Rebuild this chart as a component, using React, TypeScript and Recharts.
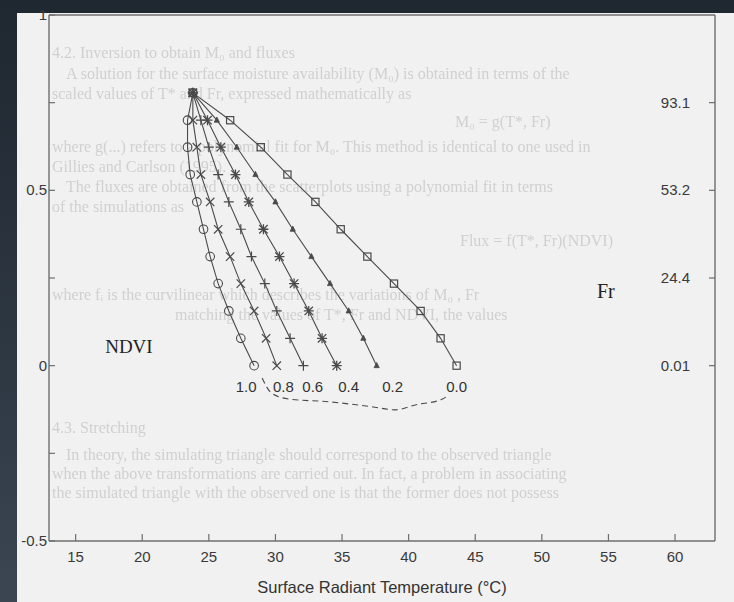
import React from 'react'
import { ComposedChart, Line, XAxis, YAxis, ReferenceDot } from 'recharts'

// NDVI levels of the simulated points (apex first, down to the bare-soil row)
const ndviLevels = [0.778, 0.7, 0.623, 0.545, 0.467, 0.389, 0.311, 0.234, 0.156, 0.078, 0.0]

// surface radiant temperature (°C) of each isoline of Fr, one value per NDVI level
const tFr10 = [23.8, 23.4, 23.4, 23.6, 24.1, 24.6, 25.1, 25.7, 26.5, 27.4, 28.4]
const tFr08 = [23.8, 23.8, 24.1, 24.4, 25.1, 25.7, 26.6, 27.4, 28.4, 29.3, 30.1]
const tFr06 = [23.8, 24.4, 25.0, 25.7, 26.5, 27.4, 28.2, 29.2, 30.1, 31.1, 32.1]
const tFr04 = [23.8, 24.9, 25.9, 27.0, 28.0, 29.1, 30.3, 31.4, 32.5, 33.5, 34.6]
const tFr02 = [23.8, 25.6, 27.1, 28.5, 30.0, 31.3, 32.7, 34.1, 35.5, 36.6, 37.6]
const tFr00 = [23.8, 26.6, 28.9, 30.9, 33.0, 34.9, 36.9, 38.9, 40.9, 42.4, 43.6]

// dashed curve under the labels
const envT = [29.0, 29.7, 31.0, 34.0, 37.2, 39.0, 40.5, 42.5, 43.0]
const envNdvi = [-0.035, -0.078, -0.095, -0.103, -0.117, -0.126, -0.112, -0.096, -0.084]

// isoline labels
const frNames = ['1.0', '0.8', '0.6', '0.4', '0.2', '0.0']
const frLabelT = [27.8, 30.6, 32.8, 35.5, 38.8, 43.6]
const frLabelNdvi = -0.061

// axes
const xTicks = [15, 20, 25, 30, 35, 40, 45, 50, 55, 60]
const yTicks = [-0.5, -0.25, 0, 0.25, 0.5, 0.75, 1]
const yTickText = ['-0.5', '', '0', '', '0.5', '', '1']
const frTicks = [0, 0.25, 0.5, 0.75]
const frTickText = ['0.01', '24.4', '53.2', '93.1']

const seriesT = [tFr10, tFr08, tFr06, tFr04, tFr02, tFr00]
const markKinds = ['circle', 'x', 'plus', 'star', 'tri', 'square']

// faint show-through text from the printed page
const bleed: [number, number, string][] = [
  [52, 58, '4.2.  Inversion to obtain M₀ and fluxes'],
  [66, 79, 'A solution for the surface moisture availability (M₀) is obtained in terms of the'],
  [52, 99, 'scaled values of T* and Fr, expressed mathematically as'],
  [455, 127, 'M₀ = g(T*, Fr)'],
  [52, 152, 'where g(...) refers to a polynomial fit for M₀. This method is identical to one used in'],
  [52, 172, 'Gillies and Carlson (1995).'],
  [66, 192, 'The fluxes are obtained from the scatterplots using a polynomial fit in terms'],
  [52, 212, 'of the simulations as'],
  [460, 246, 'Flux = f(T*, Fr)(NDVI)'],
  [52, 300, 'where fᵢ is the curvilinear which describes the variations of M₀ , Fr'],
  [175, 320, 'matching the values of T*, Fr and NDVI, the values'],
  [52, 433, '4.3.  Stretching'],
  [66, 460, 'In theory, the simulating triangle should correspond to the observed triangle'],
  [52, 479, 'when the above transformations are carried out. In fact, a problem in associating'],
  [52, 498, 'the simulated triangle with the observed one is that the former does not possess'],
]

const INK = '#4a4a4a'
const FRAME = '#6e6e6e'
const SANS = 'Liberation Sans, Arial, sans-serif'
const TS = 6 // tick length (drawn inward)
const TM = 4

function Mark({ cx, cy, kind }: { cx: number; cy: number; kind: string }) {
  if (cx == null || cy == null) return null
  const h = 4.2
  if (kind === 'circle') return <circle cx={cx} cy={cy} r={4.3} fill="none" stroke={INK} strokeWidth={1.1} />
  if (kind === 'x')
    return <path d={`M${cx - h},${cy - h}L${cx + h},${cy + h}M${cx - h},${cy + h}L${cx + h},${cy - h}`} stroke={INK} strokeWidth={1.2} />
  if (kind === 'plus')
    return <path d={`M${cx - 5},${cy}L${cx + 5},${cy}M${cx},${cy - 5}L${cx},${cy + 5}`} stroke={INK} strokeWidth={1.2} />
  if (kind === 'star')
    return (
      <path
        d={`M${cx - h},${cy - h}L${cx + h},${cy + h}M${cx - h},${cy + h}L${cx + h},${cy - h}M${cx - 5},${cy}L${cx + 5},${cy}M${cx},${cy - 5}L${cx},${cy + 5}`}
        stroke={INK}
        strokeWidth={1.3}
      />
    )
  if (kind === 'tri') return <path d={`M${cx},${cy - 3.2}L${cx + 2.6},${cy + 2}L${cx - 2.6},${cy + 2}Z`} fill={INK} stroke={INK} strokeWidth={0.8} />
  return <rect x={cx - 3.6} y={cy - 3.6} width={7.2} height={7.2} fill="none" stroke={INK} strokeWidth={1.2} />
}

// ticks are drawn inward, labels stay outside (or inside for the Fr scale)
const BottomTick = (p: any) => {
  const ay = p.y - TS - TM
  return (
    <g>
      <line x1={p.x} x2={p.x} y1={ay} y2={ay - 7} stroke={FRAME} strokeWidth={1.2} />
      <text x={p.x} y={ay + 21} textAnchor="middle" fontSize={15} fill="#3a3a3a" fontFamily={SANS}>{p.payload.value}</text>
    </g>
  )
}
const TopTick = (p: any) => {
  const ay = p.y + TS + TM
  return <line x1={p.x} x2={p.x} y1={ay} y2={ay + 7} stroke={FRAME} strokeWidth={1.2} />
}
const LeftTick = (p: any) => {
  const ax = p.x + TS + TM
  const txt = yTickText[yTicks.indexOf(p.payload.value)] ?? ''
  return (
    <g>
      <line x1={ax} x2={ax + 6} y1={p.y} y2={p.y} stroke={FRAME} strokeWidth={1.2} />
      <text x={ax - 2} y={p.y + 5} textAnchor="end" fontSize={15} fill="#3a3a3a" fontFamily={SANS}>{txt}</text>
    </g>
  )
}
const RightTick = (p: any) => {
  const ax = p.x - TS - TM
  const txt = frTickText[frTicks.indexOf(p.payload.value)] ?? ''
  return (
    <g>
      <line x1={ax} x2={ax - 6} y1={p.y} y2={p.y} stroke={FRAME} strokeWidth={1.2} />
      <text x={ax - 25} y={p.y + 5} textAnchor="end" fontSize={15} fill="#3a3a3a" fontFamily={SANS}>{txt}</text>
    </g>
  )
}

export default function App() {
  const series = seriesT.map((ts, k) => ({
    kind: markKinds[k],
    rows: ndviLevels.map((v, i) => ({ t: ts[i], ndvi: v })),
  }))
  const envRows = envT.map((t, i) => ({ t, ndvi: envNdvi[i] }))
  const axisLine = { stroke: FRAME, strokeWidth: 1.4 }

  return (
    <div style={{ position: 'absolute', left: 0, top: 0, width: 734, height: 602, background: 'linear-gradient(180deg, #1f2730 0%, #2e3843 60%, #3b4652 100%)', overflow: 'hidden' }}>
      <div style={{ position: 'absolute', left: 17, top: 13, width: 717, height: 589, background: '#f1f1f1' }} />
      <div style={{ position: 'absolute', left: 0, top: 0, width: 734, height: 602, fontFamily: 'Liberation Serif, serif', fontSize: 16, color: '#d0d0d0', filter: 'blur(0.3px)' }}>
        {bleed.map(([x, y, s], i) => (
          <div key={i} style={{ position: 'absolute', left: x, top: y - 14, whiteSpace: 'nowrap' }}>{s}</div>
        ))}
      </div>
      <div style={{ position: 'absolute', left: 0, top: 0 }}>
        <ComposedChart width={734} height={602} margin={{ top: 14, right: 18, bottom: 0, left: 0 }} style={{ fontFamily: SANS }}>
          <XAxis
            xAxisId={0}
            type="number"
            dataKey="t"
            domain={[13, 63]}
            ticks={xTicks}
            allowDataOverflow
            height={61}
            axisLine={axisLine}
            tickLine={false}
            tickSize={TS}
            tickMargin={TM}
            tick={BottomTick}
            label={{ value: 'Surface Radiant Temperature (°C)', position: 'insideBottom', offset: 9, fontSize: 16.5, fill: '#333', fontFamily: SANS }}
          />
          <XAxis
            xAxisId="top"
            orientation="top"
            type="number"
            domain={[13, 63]}
            ticks={xTicks}
            allowDataOverflow
            height={1}
            axisLine={axisLine}
            tickLine={false}
            tickSize={TS}
            tickMargin={TM}
            tick={TopTick}
          />
          <YAxis
            yAxisId={0}
            type="number"
            dataKey="ndvi"
            domain={[-0.5, 1]}
            ticks={yTicks}
            allowDataOverflow
            width={49}
            axisLine={axisLine}
            tickLine={false}
            tickSize={TS}
            tickMargin={TM}
            tick={LeftTick}
          />
          <YAxis
            yAxisId="fr"
            orientation="right"
            type="number"
            domain={[-0.5, 1]}
            ticks={frTicks}
            allowDataOverflow
            width={1}
            axisLine={axisLine}
            tickLine={false}
            tickSize={TS}
            tickMargin={TM}
            tick={RightTick}
          />

          <Line
            data={envRows}
            dataKey="ndvi"
            type="monotone"
            stroke={INK}
            strokeWidth={1.1}
            strokeDasharray="6 4"
            dot={false}
            activeDot={false}
            isAnimationActive={false}
          />

          {series.map((s) => (
            <Line
              key={s.kind}
              data={s.rows}
              dataKey="ndvi"
              type="linear"
              stroke={INK}
              strokeWidth={1.1}
              activeDot={false}
              isAnimationActive={false}
              dot={(p: any) => <Mark key={`${s.kind}-${p.index}`} cx={p.cx} cy={p.cy} kind={s.kind} />}
            />
          ))}

          {frNames.map((n, i) => (
            <ReferenceDot
              key={n}
              x={frLabelT[i]}
              y={frLabelNdvi}
              r={0}
              stroke="none"
              label={{ value: n, position: 'center', fontSize: 15, fill: '#333', fontFamily: SANS }}
            />
          ))}
          <ReferenceDot x={19.0} y={0.056} r={0} stroke="none" label={{ value: 'NDVI', position: 'center', fontSize: 19, fill: '#222', fontFamily: 'Liberation Serif, serif' }} />
          <ReferenceDot x={54.8} y={0.213} r={0} stroke="none" label={{ value: 'Fr', position: 'center', fontSize: 20, fill: '#222', fontFamily: 'Liberation Serif, serif' }} />
        </ComposedChart>
      </div>
    </div>
  )
}
